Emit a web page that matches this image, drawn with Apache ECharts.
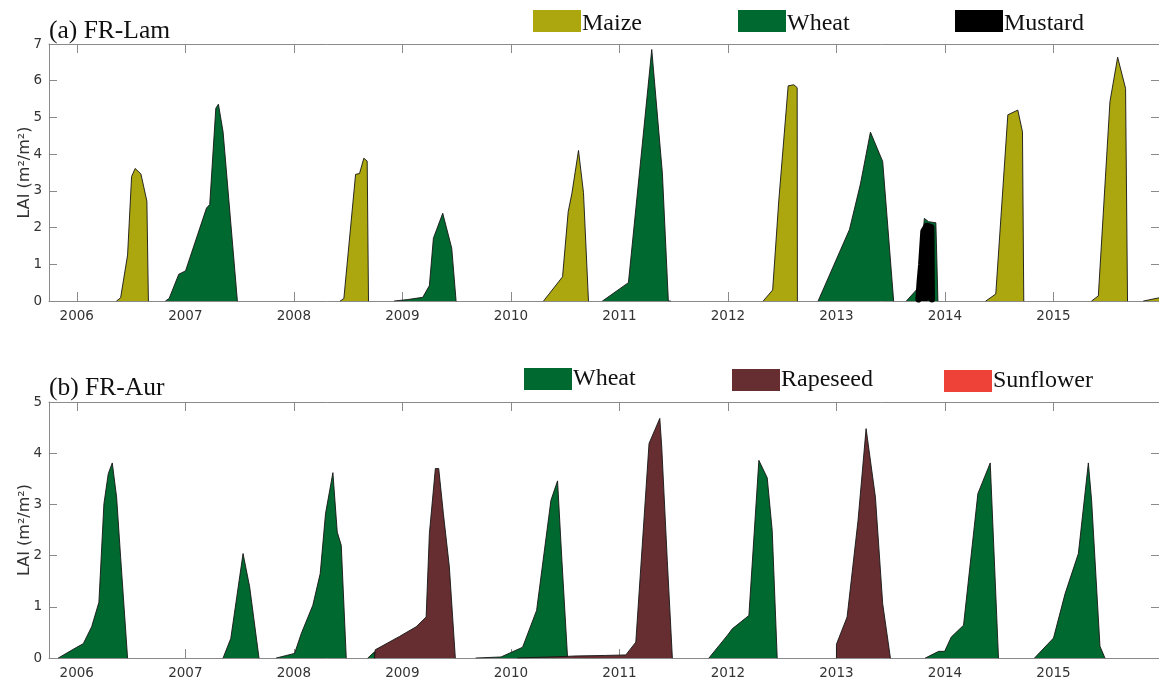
<!DOCTYPE html>
<html>
<head>
<meta charset="utf-8">
<script src="https://cdn.jsdelivr.net/npm/echarts@6/dist/echarts.min.js"></script>
<style>html,body{margin:0;padding:0;background:#fff;}#c{width:1159px;height:684px;}</style>
</head>
<body>
<div id="c"></div>
<script>
// ---- tick labels ----
var yearTicks = [2006, 2007, 2008, 2009, 2010, 2011, 2012, 2013, 2014, 2015];

// ---- (a) FR-Lam : each array is a list of seasons, each season a list of [decimal year, LAI] ----
var lamMaize = [
  [[2006.367,0],[2006.404,0.09],[2006.468,1.25],[2006.505,3.39],[2006.538,3.61],[2006.591,3.46],[2006.646,2.72],[2006.66,0]],
  [[2008.428,0],[2008.461,0.07],[2008.569,3.45],[2008.605,3.47],[2008.645,3.89],[2008.676,3.81],[2008.688,0]],
  [[2010.301,0],[2010.476,0.66],[2010.528,2.43],[2010.562,2.93],[2010.623,4.10],[2010.669,2.95],[2010.715,0]],
  [[2012.325,0],[2012.412,0.30],[2012.469,2.75],[2012.555,5.86],[2012.607,5.89],[2012.638,5.81],[2012.64,0]],
  [[2014.376,0],[2014.468,0.19],[2014.579,5.07],[2014.671,5.20],[2014.714,4.61],[2014.726,0]],
  [[2015.351,0],[2015.413,0.14],[2015.52,5.43],[2015.591,6.64],[2015.664,5.79],[2015.682,0]],
  [[2015.83,0],[2015.96,0.08],[2016.05,0.12]]
];
var lamWheat = [
  [[2006.818,0],[2006.851,0.07],[2006.940,0.73],[2007.002,0.82],[2007.195,2.53],[2007.225,2.63],[2007.281,5.25],[2007.305,5.36],[2007.348,4.61],[2007.48,0]],
  [[2008.927,0],[2009.05,0.04],[2009.188,0.10],[2009.249,0.42],[2009.286,1.71],[2009.372,2.39],[2009.455,1.44],[2009.495,0]],
  [[2010.844,0],[2011.083,0.50],[2011.212,4.30],[2011.298,6.85],[2011.396,3.48],[2011.451,0],[2011.47,0]],
  [[2012.831,0],[2013.120,1.95],[2013.221,3.19],[2013.313,4.60],[2013.426,3.80],[2013.527,0]],
  [[2013.644,0],[2013.751,0.35],[2013.81,2.25],[2013.849,2.16],[2013.916,2.13],[2013.935,0]]
];
var lamMustard = [
  [[2013.755,0.04],[2013.765,0.5],[2013.78,1.0],[2013.80,1.9],[2013.83,2.05],[2013.875,2.02],[2013.88,0.04]]
];

// ---- (b) FR-Aur ----
var aurWheat = [
  [[2005.83,0],[2006.0,0.21],[2006.06,0.28],[2006.137,0.61],[2006.204,1.09],[2006.25,3.01],[2006.29,3.60],[2006.327,3.81],[2006.367,3.14],[2006.404,1.97],[2006.468,0]],
  [[2007.348,0],[2007.419,0.38],[2007.532,2.04],[2007.593,1.39],[2007.679,0]],
  [[2007.839,0],[2008.007,0.09],[2008.069,0.48],[2008.175,1.03],[2008.243,1.65],[2008.292,2.82],[2008.36,3.62],[2008.40,2.46],[2008.437,2.20],[2008.483,0]],
  [[2008.682,0],[2008.743,0.12],[2008.75,0]],
  [[2009.679,0],[2009.909,0.02],[2010.108,0.21],[2010.237,0.93],[2010.369,3.08],[2010.43,3.46],[2010.47,1.91],[2010.522,0.02]],
  [[2011.825,0],[2011.994,0.44],[2012.04,0.57],[2012.193,0.83],[2012.285,3.86],[2012.362,3.52],[2012.408,2.49],[2012.454,0]],
  [[2013.819,0],[2013.942,0.13],[2013.997,0.13],[2014.058,0.41],[2014.171,0.64],[2014.303,3.21],[2014.417,3.81],[2014.493,0]],
  [[2014.825,0],[2015.0,0.39],[2015.107,1.26],[2015.229,2.04],[2015.321,3.81],[2015.351,3.08],[2015.428,0.23],[2015.474,0]]
];
var aurRapeseed = [
  [[2008.743,0],[2008.75,0.16],[2008.973,0.42],[2009.127,0.61],[2009.219,0.80],[2009.249,2.43],[2009.304,3.70],[2009.335,3.70],[2009.378,2.82],[2009.433,1.78],[2009.488,0]],
  [[2010.062,0],[2010.5,0.03],[2010.6,0.04],[2010.87,0.05],[2011.059,0.06],[2011.151,0.31],[2011.273,4.19],[2011.372,4.68],[2011.39,4.12],[2011.441,1.91],[2011.488,0]],
  [[2013.0,0],[2013.0,0.27],[2013.098,0.80],[2013.199,2.69],[2013.273,4.48],[2013.359,3.14],[2013.426,1.06],[2013.497,0]]
];
var aurSunflower = [];

var colors = {Maize:'#aca70f', Wheat:'#00692f', Mustard:'#000000', Rapeseed:'#662e30', Sunflower:'#ee4239'};
var xMin = 2005.744, xMax = 2015.972;

function seasonSeries(name, seasons, gi, z, lw) {
  var out = [];
  if (seasons.length === 0) {
    out.push({name:name, type:'line', xAxisIndex:gi*2, yAxisIndex:gi*2, data:[], symbol:'none',
      itemStyle:{color:colors[name]}, lineStyle:{color:'#111'}, areaStyle:{color:colors[name], opacity:1}});
  }
  seasons.forEach(function(s){
    out.push({
      name:name, type:'line', xAxisIndex:gi*2, yAxisIndex:gi*2, data:s, symbol:'none', z:z,
      silent:true, animation:false,
      itemStyle:{color:colors[name]},
      lineStyle:{color: name==='Mustard' ? '#000' : '#151515', width: lw || 0.9, join:'round', cap:'round'},
      areaStyle:{color:colors[name], opacity:1}
    });
  });
  return out;
}

var axisGray = '#8a8a8a';
var labelFont = {fontFamily:'DejaVu Sans', fontSize:13.5, color:'#333'};

function xAxes(gi) {
  var base = {type:'value', gridIndex:gi, min:xMin, max:xMax, splitLine:{show:false},
    axisLine:{onZero:false, lineStyle:{color:axisGray, width:1}},
    axisTick:{inside:true, length:9, customValues:yearTicks, lineStyle:{color:axisGray}}};
  return [
    Object.assign({}, base, {position:'bottom',
      axisLabel:Object.assign({customValues:yearTicks, margin:8, formatter:function(v){return String(Math.round(v));}}, labelFont)}),
    Object.assign({}, base, {position:'top', axisLabel:{show:false}})
  ];
}
function yAxes(gi, max) {
  var base = {type:'value', gridIndex:gi, min:0, max:max, interval:1, splitLine:{show:false},
    axisLine:{show:true, onZero:false, lineStyle:{color:axisGray, width:1}},
    axisTick:{show:true, inside:true, length:8, lineStyle:{color:axisGray}}};
  return [
    Object.assign({}, base, {position:'left', name:'LAI (m²/m²)', nameLocation:'middle', nameRotate:90, nameGap:16,
      nameMoveOverlap:false,
      nameTextStyle:{fontFamily:'DejaVu Sans', fontSize:16, color:'#333'},
      axisLabel:Object.assign({margin:7}, labelFont)}),
    Object.assign({}, base, {position:'right', axisLabel:{show:false}})
  ];
}

function leg(name, left, top, padTop) {
  return {data:[name], left:left, top:top, padding:0, icon:'rect', itemWidth:48, itemHeight:22, itemGap:0,
    selectedMode:false,
    formatter:'{t|{name}}',
    textStyle:{fontFamily:'Liberation Serif', fontSize:24, color:'#111',
      rich:{t:{fontFamily:'Liberation Serif', fontSize:24, color:'#111', padding:[padTop,0,0,-4]}}},
    itemStyle:{borderWidth:0}, lineStyle:{width:0}};
}

var series = [].concat(
  seasonSeries('Maize', lamMaize, 0, 2),
  seasonSeries('Wheat', lamWheat, 0, 2),
  seasonSeries('Mustard', lamMustard, 0, 3, 6),
  seasonSeries('Wheat', aurWheat, 1, 2),
  seasonSeries('Rapeseed', aurRapeseed, 1, 3),
  seasonSeries('Sunflower', aurSunflower, 1, 3)
);

var option = {
  animation:false,
  backgroundColor:'#fff',
  title:[
    {text:'(a) FR-Lam', left:44, top:13, textStyle:{fontFamily:'Liberation Serif', fontSize:25.5, fontWeight:'normal', color:'#111'}},
    {text:'(b) FR-Aur', left:44, top:370, textStyle:{fontFamily:'Liberation Serif', fontSize:25.5, fontWeight:'normal', color:'#111'}}
  ],
  legend:[
    leg('Maize', 533, 10, 5), leg('Wheat', 738, 10, 5), leg('Mustard', 955, 10, 5),
    leg('Wheat', 524, 367, 0), leg('Rapeseed', 732, 368, 0), leg('Sunflower', 944, 369, 0)
  ],
  grid:[
    {left:49, top:44, width:1112, height:257},
    {left:49, top:402, width:1112, height:256}
  ],
  xAxis:[].concat(xAxes(0), xAxes(1)),
  yAxis:[].concat(yAxes(0, 7), yAxes(1, 5)),
  series:series
};

var chart = echarts.init(document.getElementById('c'), null, {renderer:'canvas'});
chart.setOption(option);
</script>
</body>
</html>
